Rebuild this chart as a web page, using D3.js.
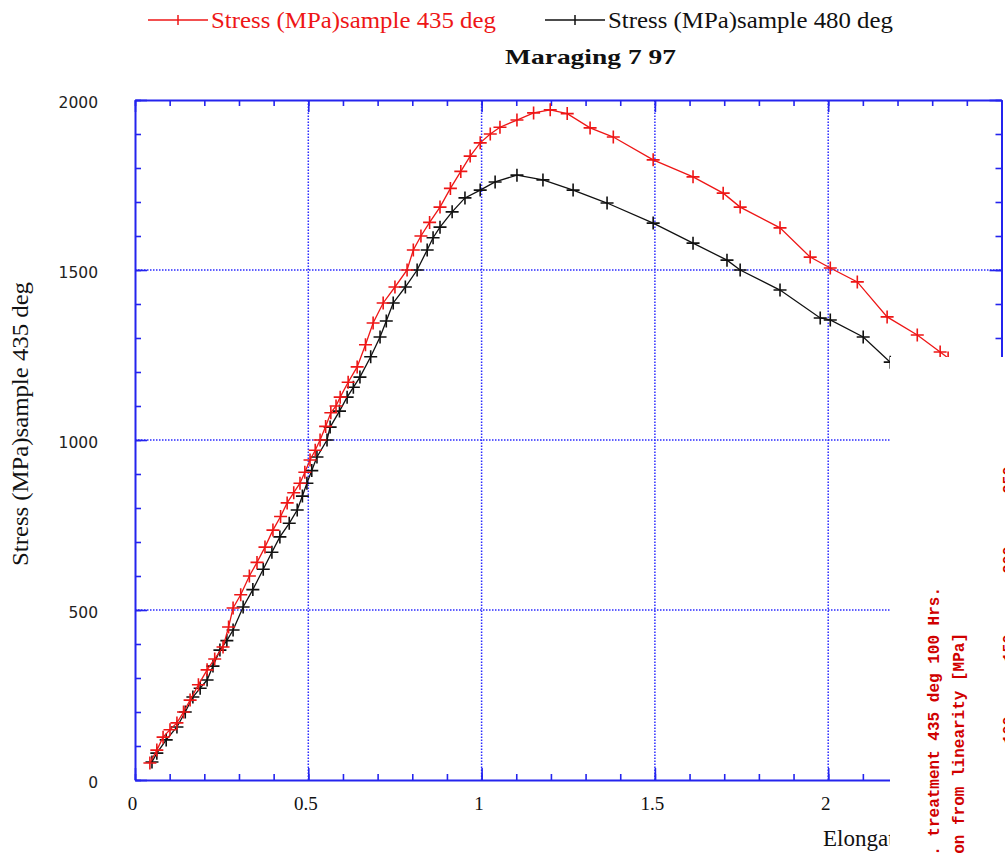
<!DOCTYPE html>
<html>
<head>
  <meta charset="utf-8">
  <title>Maraging 7 97</title>
  <script src="https://cdnjs.cloudflare.com/ajax/libs/d3/7.8.5/d3.min.js"></script>
  <style>
    body { margin: 0; background: #fff; }
    svg { display: block; }
    .serif { font-family: "Liberation Serif", "DejaVu Serif", serif; }
  </style>
</head>
<body>
<div id="chart"></div>

<script>
  // series: elongation (%) and stress (MPa)
  var redX = [0.043, 0.063, 0.081, 0.101, 0.121, 0.140, 0.159, 0.183, 0.208, 0.230, 0.254, 0.270, 0.283, 0.305,
              0.330, 0.352, 0.375, 0.398, 0.420, 0.439, 0.458, 0.476, 0.490, 0.505, 0.520, 0.534, 0.550, 0.565,
              0.580, 0.592, 0.615, 0.641, 0.665, 0.687, 0.716, 0.750, 0.785, 0.803, 0.825, 0.850, 0.880, 0.910,
              0.940, 0.967, 0.996, 1.025, 1.053, 1.102, 1.150, 1.198, 1.247, 1.313, 1.380, 1.495, 1.610, 1.697,
              1.746, 1.861, 1.948, 2.006, 2.084, 2.170, 2.257, 2.323, 2.346, 2.400];
  var redY = [50, 88, 126, 148, 168, 200, 235, 280, 324, 356, 391, 450, 506, 545,
              600, 640, 685, 735, 775, 815, 845, 873, 905, 941, 970, 1000, 1040, 1080,
              1100, 1126, 1170, 1215, 1280, 1344, 1403, 1450, 1500, 1559, 1600, 1640, 1685, 1740,
              1790, 1835, 1874, 1900, 1920, 1941, 1962, 1971, 1960, 1918, 1891, 1824, 1774, 1726,
              1685, 1624, 1538, 1506, 1465, 1362, 1309, 1259, 1241, 1205];

  var blackX = [0.049, 0.063, 0.090, 0.121, 0.145, 0.167, 0.188, 0.208, 0.225, 0.245, 0.265, 0.283, 0.312, 0.340,
                0.370, 0.395, 0.418, 0.445, 0.468, 0.483, 0.496, 0.510, 0.525, 0.554, 0.563, 0.590, 0.612, 0.630,
                0.649, 0.680, 0.707, 0.725, 0.745, 0.780, 0.814, 0.843, 0.860, 0.880, 0.915, 0.952, 0.996, 1.039,
                1.102, 1.177, 1.264, 1.362, 1.495, 1.610, 1.708, 1.746, 1.861, 1.977, 2.006, 2.101, 2.179, 2.250];
  var blackY = [53, 79, 118, 156, 200, 244, 270, 294, 335, 382, 410, 441, 509, 560,
                620, 670, 715, 755, 794, 835, 873, 910, 950, 1000, 1038, 1085, 1126, 1155,
                1185, 1245, 1303, 1350, 1403, 1450, 1500, 1559, 1595, 1626, 1671, 1712, 1735, 1759,
                1779, 1765, 1735, 1697, 1638, 1579, 1529, 1500, 1441, 1359, 1353, 1303, 1229, 1185];

  var seriesNames = ["Stress (MPa)sample 435 deg", "Stress (MPa)sample 480 deg"];
  var xTicks = [0, 0.5, 1, 1.5, 2];
  var yTicks = [0, 500, 1000, 1500, 2000];
  var rightLabels = ["250", "200", "150", "100"];

  var width = 1005, height = 854;
  var blue = "#2424ee", red = "#ee1616", dark = "#111";

  var svg = d3.select("#chart").append("svg").attr("width", width).attr("height", height);

  var x = d3.scaleLinear().domain([0, 2.5]).range([135, 1001.5]);
  var y = d3.scaleLinear().domain([0, 2000]).range([780, 100]);

  var minorX = d3.range(0, 26).map(function(i) { return i / 10; });
  var minorY = d3.range(0, 21).map(function(i) { return i * 100; });

  //dotted grid
  var grid = svg.append("g").attr("stroke", "#2a2aff").attr("stroke-width", 1.5).attr("stroke-dasharray", "1.5,1.5");
  grid.selectAll("line.v").data(xTicks.slice(1)).enter().append("line")
      .attr("x1", function(d) { return x(d); }).attr("x2", function(d) { return x(d); })
      .attr("y1", y(0)).attr("y2", y(2000));
  grid.selectAll("line.h").data(yTicks.slice(1, 4)).enter().append("line")
      .attr("x1", x(0)).attr("x2", x(2.5))
      .attr("y1", function(d) { return y(d); }).attr("y2", function(d) { return y(d); });

  //axis frame, ticks pointing inside
  var styleAxis = function(g) {
    g.selectAll("path.domain").attr("stroke", blue).attr("stroke-width", 2);
    g.selectAll(".tick line").attr("stroke", blue).attr("stroke-width", 1.6);
    g.selectAll("text").remove();
  };
  var dropDomain = function(g) { g.select("path.domain").remove(); };

  svg.append("g").attr("transform", "translate(0," + y(0) + ")")
      .call(d3.axisBottom(x).tickValues(minorX).tickSize(-6).tickSizeOuter(0)).call(styleAxis);
  svg.append("g").attr("transform", "translate(0," + y(0) + ")")
      .call(d3.axisBottom(x).tickValues(xTicks).tickSize(-12).tickSizeOuter(0)).call(styleAxis).call(dropDomain);
  svg.append("g").attr("transform", "translate(0," + y(2000) + ")")
      .call(d3.axisTop(x).tickValues(minorX).tickSize(-6).tickSizeOuter(0)).call(styleAxis);
  svg.append("g").attr("transform", "translate(0," + y(2000) + ")")
      .call(d3.axisTop(x).tickValues(xTicks).tickSize(-12).tickSizeOuter(0)).call(styleAxis).call(dropDomain);
  svg.append("g").attr("transform", "translate(" + x(0) + ",0)")
      .call(d3.axisLeft(y).tickValues(minorY).tickSize(-6).tickSizeOuter(0)).call(styleAxis);
  svg.append("g").attr("transform", "translate(" + x(0) + ",0)")
      .call(d3.axisLeft(y).tickValues(yTicks).tickSize(-12).tickSizeOuter(0)).call(styleAxis).call(dropDomain);
  svg.append("g").attr("transform", "translate(" + x(2.5) + ",0)")
      .call(d3.axisRight(y).tickValues(minorY).tickSize(-6).tickSizeOuter(0)).call(styleAxis);
  svg.append("g").attr("transform", "translate(" + x(2.5) + ",0)")
      .call(d3.axisRight(y).tickValues(yTicks).tickSize(-12).tickSizeOuter(0)).call(styleAxis).call(dropDomain);

  //tick labels
  var xl = svg.append("g").attr("transform", "translate(0," + y(0) + ")")
      .call(d3.axisBottom(x).tickValues(xTicks).tickSize(0).tickPadding(17).tickFormat(d3.format("")));
  xl.select("path.domain").remove();
  xl.selectAll("text").attr("font-family", "Liberation Serif").attr("font-size", 19)
      .attr("fill", dark).attr("dx", -3);

  var yl = svg.append("g").attr("transform", "translate(" + x(0) + ",0)")
      .call(d3.axisLeft(y).tickValues(yTicks).tickSize(0).tickPadding(37).tickFormat(d3.format("d")));
  yl.select("path.domain").remove();
  yl.selectAll("text").attr("font-family", "DejaVu Sans").attr("font-size", 15.5)
      .attr("fill", "#222").attr("dy", "0.5em");

  //curves
  var line = d3.line().x(function(d) { return x(d[0]); }).y(function(d) { return y(d[1]); });
  var plus = "M-6.5,0H6.5M0,-6.5V6.5";
  var series = [
    { name: seriesNames[0], color: red, pts: d3.zip(redX, redY) },
    { name: seriesNames[1], color: dark, pts: d3.zip(blackX, blackY) }
  ];
  series.slice().reverse().forEach(function(s) {
    var g = svg.append("g");
    g.append("path").datum(s.pts).attr("d", line)
        .attr("fill", "none").attr("stroke", s.color).attr("stroke-width", 1.3);
    g.selectAll("path.m").data(s.pts).enter().append("path")
        .attr("d", plus)
        .attr("transform", function(d) { return "translate(" + x(d[0]) + "," + y(d[1]) + ")"; })
        .attr("stroke", s.color).attr("stroke-width", 1.6);
  });

  //titles
  svg.append("text").attr("class", "serif").attr("x", 505).attr("y", 64)
      .attr("font-size", 22).attr("font-weight", "bold").attr("fill", dark)
      .attr("textLength", 171).attr("lengthAdjust", "spacingAndGlyphs")
      .text("Maraging 7 97");

  svg.append("text").attr("class", "serif")
      .attr("transform", "translate(28,424)rotate(-90)")
      .attr("text-anchor", "middle").attr("font-size", 23).attr("fill", dark)
      .attr("textLength", 284).attr("lengthAdjust", "spacingAndGlyphs")
      .text(seriesNames[0]);

  svg.append("text").attr("class", "serif").attr("x", 823).attr("y", 846)
      .attr("font-size", 23).attr("fill", dark).text("Elongation [%]");

  //legend
  var legX = [148, 545];
  series.forEach(function(s, i) {
    var g = svg.append("g").attr("transform", "translate(" + legX[i] + ",20)");
    g.append("line").attr("x1", 0).attr("x2", 60).attr("stroke", s.color).attr("stroke-width", 1.5);
    g.append("path").attr("d", "M30,-5V5").attr("stroke", s.color).attr("stroke-width", 1.5);
    g.append("text").attr("class", "serif").attr("x", 63).attr("y", 8)
        .attr("font-size", 23).attr("fill", s.color)
        .attr("textLength", 285).attr("lengthAdjust", "spacingAndGlyphs")
        .text(s.name);
  });

  //overlapping window of another chart (lower right)
  svg.append("rect").attr("x", 890).attr("y", 357).attr("width", width - 890).attr("height", height - 357)
      .attr("fill", "#fff");

  var over = svg.append("g").attr("font-family", "Liberation Mono").attr("font-weight", "bold")
      .attr("font-size", 16).attr("fill", "#d00000");
  over.append("text").attr("transform", "translate(939,587)rotate(-90)").attr("text-anchor", "end")
      .text("Heat. treatment 435 deg 100 Hrs.");
  over.append("text").attr("transform", "translate(964,633)rotate(-90)").attr("text-anchor", "end")
      .text("Deviation from linearity [MPa]");
  over.selectAll("text.r").data(rightLabels).enter().append("text")
      .attr("transform", function(d, i) { return "translate(1013," + [480, 560, 648, 730][i] + ")rotate(-90)"; })
      .attr("text-anchor", "middle").attr("font-size", 15)
      .text(function(d) { return d; });
</script>
</body>
</html>
